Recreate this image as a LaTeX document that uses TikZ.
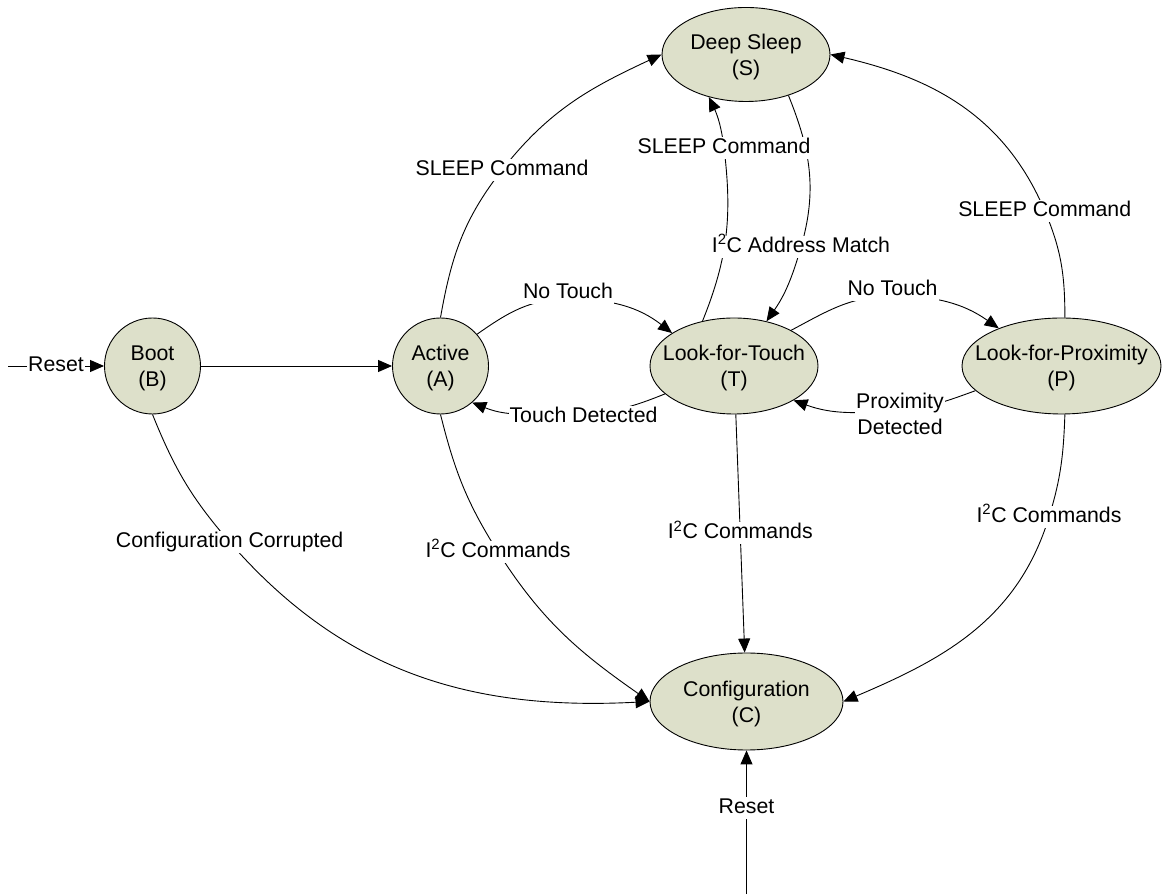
\documentclass[tikz,border=0pt]{standalone}
\usepackage{fontspec}
\setmainfont{Liberation Sans}
\usetikzlibrary{arrows.meta,shapes.geometric}
\definecolor{stfill}{RGB}{221,224,202}
\newcommand\dfont{\fontsize{21.3pt}{26pt}\selectfont}
\begin{document}
\begin{tikzpicture}[x=1pt,y=1pt,font=\dfont,line width=0.9pt,
  st/.style={draw,fill=stfill,line width=0.9pt,inner sep=0pt},
  stc/.style={st,circle,minimum size=96pt},
  ste/.style={st,ellipse},
  arr/.style={-{Triangle[length=14pt,width=12pt]}},
  lab/.style={fill=white,inner sep=1pt,text height=15.5pt,text depth=4.5pt},
  labm/.style={fill=white,inner sep=1pt,align=center},
  nm/.style={align=center,yshift=-2pt}]
\useasboundingbox (0,0) rectangle (1164,894);
% states
\node[stc,label={[nm]center:Boot\\(B)}] (B) at (152.5,528) {};
\node[stc,label={[nm]center:Active\\(A)}] (A) at (440.5,528) {};
\node[ste,minimum width=168pt,minimum height=96pt,label={[nm]center:Look-for-Touch\\(T)}] (T) at (734,528) {};
\node[ste,minimum width=199pt,minimum height=96pt,label={[nm]center:Look-for-Proximity\\(P)}] (P) at (1061.5,528) {};
\node[ste,minimum width=168pt,minimum height=94pt,label={[nm]center:Deep Sleep\\(S)}] (S) at (746,839.5) {};
\node[ste,minimum width=193pt,minimum height=97pt,label={[nm]center:Configuration\\(C)}] (C) at (746.5,192.5) {};
% helper coordinates
\coordinate (rst1) at (8,528);
\coordinate (rst2) at (746.5,0);
\coordinate (l3) at (502,724);
\coordinate (l4) at (568,595);
\coordinate (l5) at (578,481);
\coordinate (l6) at (724,746);
\coordinate (l7) at (801,647);
\coordinate (l8) at (893,598);
\coordinate (l9) at (900,484);
\coordinate (l10) at (1044.7,683.3);
\coordinate (l11) at (498,342);
\coordinate (l12) at (229.6,352);
\coordinate (l14) at (1049,377);
% connectors
\draw[arr] (rst1) -- (B) coordinate[pos=0.5] (m1);
\draw[arr] (B) -- (A);
\draw[arr] (A.north) to[out=80,in=232] (l3) to[out=52,in=205] (S.west);
\draw[arr] (A.41) to[out=35,in=180] (l4) to[out=0,in=142] (T.152);
\draw[arr] (T.202) to[out=202,in=0] (l5) to[out=180,in=338] (A.311.5);
\draw[arr] (T.125.5) to[out=68,in=-83] (l6) to[out=97,in=-65] (S.229);
\draw[arr] (S.316) to[out=-68,in=74] (l7) to[out=-106,in=55] (T.54);
\draw[arr] (T.32) to[out=28,in=180] (l8) to[out=0,in=145] (P.149);
\draw[arr] (P.196.5) to[out=200,in=5] (l9) to[out=185,in=340] (T.330);
\draw[arr] (P.86) to[out=90,in=-67] (l10) to[out=113,in=-13] (S.east);
\draw[arr] (A.south) to[out=-76,in=122.4] (l11) to[out=-57.6,in=145] (C.west);
\draw[arr] (B.south) to[out=-68,in=131] (l12) to[out=-49,in=183] (C.west);
\draw[arr] (T) -- (C) coordinate[pos=0.5] (m13);
\draw[arr] (P.274) to[out=-92,in=73] (l14) to[out=-107,in=23] (C.east);
\draw[arr] (rst2) -- (C) coordinate[pos=0.6] (m15);
% labels
\node[lab] (n1) at (m1) {Reset};
\node[lab] (n3) at (l3) {SLEEP Command};
\node[lab] (n4) at (568,601) {No Touch};
\node[lab] (n5) at (583.5,477) {Touch Detected};
\node[lab] (n7) at (l7) {I\textsuperscript{2}C Address Match};
\node[lab] (n6) at (l6) {SLEEP Command};
\node[lab] (n8) at (892.6,604) {No Touch};
\node[labm] (n9) at (900,480) {Proximity\\Detected};
\node[lab] (n10) at (l10) {SLEEP Command};
\node[lab] (n11) at (l11) {I\textsuperscript{2}C Commands};
\node[lab] (n12) at (l12) {Configuration Corrupted};
\node[lab] (n13) at (m13) {I\textsuperscript{2}C Commands};
\node[lab] (n14) at (l14) {I\textsuperscript{2}C Commands};
\node[lab] (n15) at (m15) {Reset};
\end{tikzpicture}
\end{document}
